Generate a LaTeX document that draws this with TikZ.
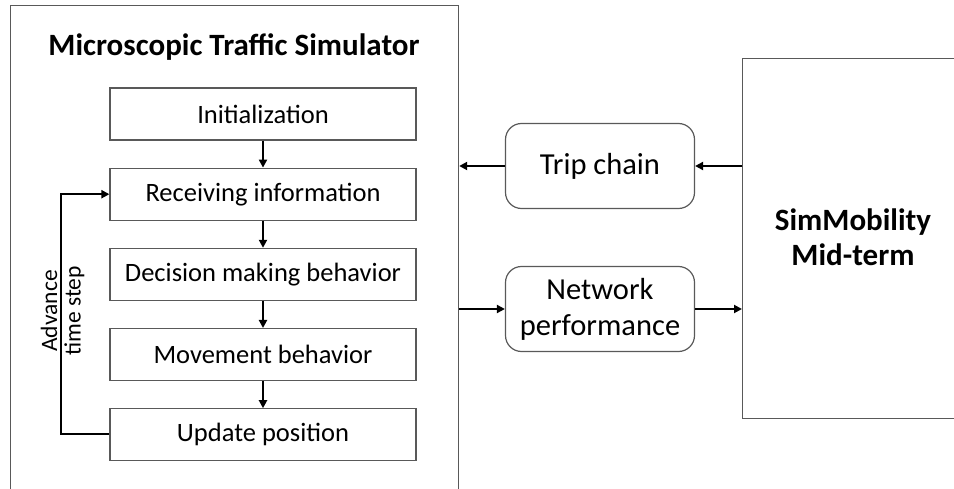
\documentclass[tikz,border=0pt]{standalone}
\usepackage{fontspec}
\setmainfont{Carlito}
\usetikzlibrary{arrows.meta,positioning,shapes}
\tikzset{
    frame/.style={
                draw=black!65,
                line width=1.2pt,
                anchor=north west,
                inner sep=0pt
            },
        stage/.style={
                draw=black!65,
                line width=1.2pt,
                text centered,
                minimum width=306pt,
                minimum height=52pt,
                font=\fontsize{26.5}{30}\selectfont
            },
        message/.style={
                draw=black!65,
                line width=1.2pt,
                rounded corners=16pt,
                text centered,
                align=center,
                minimum width=189pt,
                minimum height=85pt,
                font=\fontsize{30.5}{36}\selectfont
            },
        flow/.style={
                draw=black,
                line width=2.6pt,
                -{Triangle[length=8pt,width=8pt]}
            },
}

\begin{document}
\begin{tikzpicture}[x=1pt,y=-1pt]
  \clip (0,0) rectangle (954,489);
  % Frames
  \node[frame,minimum width=448pt,minimum height=540pt] (micro) at (10,5) {};
  \node[frame,minimum width=300pt,minimum height=360pt] (mid) at (742,58) {};
  \node[font=\bfseries\fontsize{31}{36}\selectfont] (microlabel) at (234,47) {Microscopic Traffic Simulator};
  \node[font=\bfseries\fontsize{31}{35}\selectfont,align=center] (midlabel) at (853,237) {SimMobility\\Mid-term};
  % Stages
  \node[stage] (init) at (263,114) {Initialization};
  \node[stage,below=27pt of init] (recv) {Receiving information};
  \node[stage,below=27pt of recv] (decide) {Decision making behavior};
  \node[stage,below=27pt of decide] (move) {Movement behavior};
  \node[stage,below=27pt of move] (update) {Update position};
  \draw[flow] (init) -- (recv);
  \draw[flow] (recv) -- (decide);
  \draw[flow] (decide) -- (move);
  \draw[flow] (move) -- (update);
  % Loop
  \coordinate (loop) at (61,434);
  \draw[flow] (update.west |- loop) -- (loop) |- (recv.west);
  \node[rotate=90,align=center,font=\fontsize{23.5}{23.5}\selectfont] (advance) at (62.5,311) {Advance\\time step};
  % Messages
  \node[message] (trip) at (600,166) {Trip chain};
  \node[message] (perf) at (600,309) {Network\\performance};
  \draw[flow] (mid.west |- trip) -- (trip);
  \draw[flow] (trip) -- (micro.east |- trip);
  \draw[flow] (micro.east |- perf) -- (perf);
  \draw[flow] (perf) -- (mid.west |- perf);
\end{tikzpicture}
\end{document}
